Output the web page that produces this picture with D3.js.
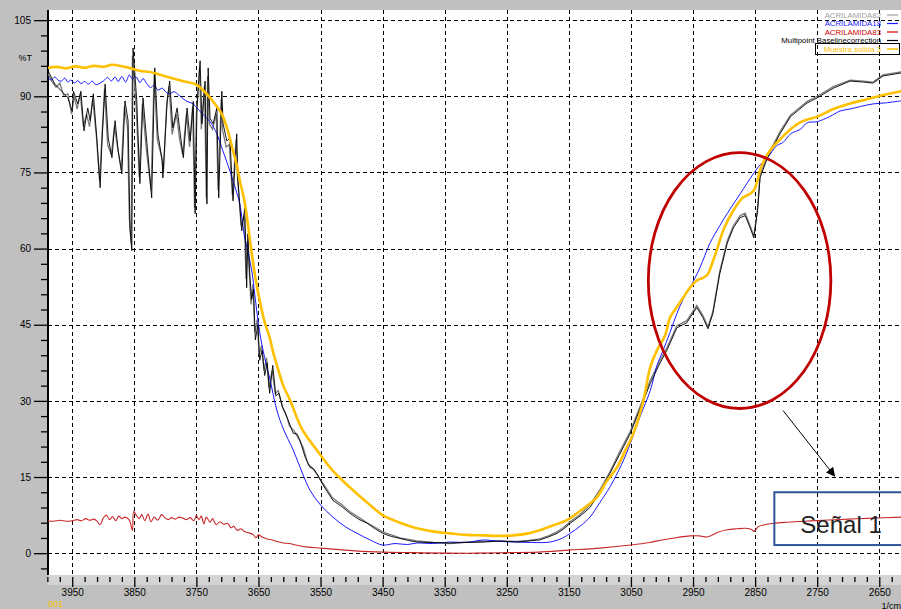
<!DOCTYPE html>
<html><head><meta charset="utf-8">
<script src="https://cdn.jsdelivr.net/npm/d3@7"></script>
<style>
body{margin:0;background:#c0c0c0;}
svg{display:block;font-family:"Liberation Sans",Arial,sans-serif;}
</style>
</head><body>
<svg id="chart" width="901" height="609"></svg>
<script>
// ---------- tick labels ----------
const yTicksMajor = [0, 15, 30, 45, 60, 75, 90, 105];
const xTicksMajor = [3950, 3850, 3750, 3650, 3550, 3450, 3350, 3250, 3150, 3050, 2950, 2850, 2750, 2650];
const seriesNames = ["ACRILAMIDA82", "ACRILAMIDA18", "ACRILAMIDA83", "Multipoint Baselinecorrection", "Muestra solida 3"];

// ---------- series: [wavenumber (1/cm), %T] ----------
const acr82 = [
[3989,94.5],[3983,93.0],[3976,91.8],[3970,92.6],[3964,90.2],[3957,90.5],[3951,86.5],[3947,90.0],[3942,87.5],[3937,90.5],
[3932,84.0],[3927,86.5],[3922,84.0],[3917,89.5],[3911,82.0],[3906,73.5],[3903,80.0],[3898,91.5],[3893,80.5],[3887,78.5],
[3882,84.0],[3877,80.0],[3871,75.5],[3866,88.0],[3861,84.0],[3858,66.0],[3855,61.0],[3853,98.0],[3847,88.0],[3842,74.0],
[3837,88.5],[3831,80.0],[3823,71.5],[3818,94.5],[3813,81.5],[3806,78.0],[3803,75.0],[3798,88.0],[3794,92.0],[3789,82.5],
[3782,86.5],[3777,81.5],[3772,78.5],[3766,86.5],[3761,80.0],[3756,88.0],[3753,68.0],[3750,86.5],[3745,95.5],[3742,83.5],
[3737,92.0],[3734,70.0],[3732,94.0],[3729,84.5],[3724,83.5],[3718,86.5],[3715,71.5],[3710,89.5],[3708,83.5],[3702,80.0],
[3697,80.5],[3692,70.5],[3686,81.5],[3684,74.5],[3678,64.5],[3673,66.5],[3670,54.0],[3668,61.5],[3665,56.0],[3662,49.0],
[3659,53.0],[3656,43.5],[3652,46.0],[3649,39.0],[3645,41.0],[3641,36.0],[3637,38.5],[3633,32.5],[3628,36.0],[3623,31.5],
[3618,32.0],[3612,29.0],[3606,27.5],[3600,25.0],[3592,24.0],[3585,22.5],[3578,20.8],[3570,17.5],[3563,16.8],[3556,15.5],
[3543,13.2],[3530,10.8],[3516,9.6],[3503,8.2],[3489,7.1],[3475,6.0],[3462,5.1],[3450,4.2],[3436,3.6],[3422,3.0],
[3408,2.7],[3395,2.4],[3368,2.1],[3341,1.9],[3315,2.2],[3288,2.3],[3260,2.4],[3234,2.3],[3215,2.5],[3197,2.8],
[3183,3.4],[3169,4.2],[3158,5.1],[3148,6.2],[3132,7.6],[3116,9.5],[3100,12.5],[3084,16.0],[3068,20.0],[3051,24.0],
[3035,29.0],[3019,34.0],[3005,37.5],[2992,40.5],[2976,44.8],[2960,45.8],[2944,48.8],[2934,46.8],[2926,44.6],[2918,47.6],
[2907,55.5],[2895,61.5],[2885,64.5],[2874,66.5],[2866,67.0],[2858,64.5],[2852,62.5],[2846,68.0],[2842,74.5],[2830,78.3],
[2810,83.0],[2793,86.3],[2782,87.4],[2766,89.0],[2750,90.0],[2724,91.9],[2697,93.2],[2675,93.0],[2660,92.8],[2644,94.2],
[2615,94.8]
];

const acr18 = [
[3989,93.7],[3984,93.2],[3978,93.8],[3972,93.1],[3967,93.0],[3962,93.6],[3957,92.8],[3952,93.2],[3946,92.6],[3941,93.1],
[3936,92.5],[3930,92.9],[3924,92.4],[3918,93.0],[3912,92.3],[3905,92.6],[3899,93.1],[3893,93.7],[3887,93.0],[3881,93.8],
[3876,92.9],[3870,93.9],[3864,92.8],[3858,94.2],[3853,93.4],[3847,93.8],[3841,92.7],[3836,93.5],[3830,92.5],[3824,91.7],
[3818,92.2],[3812,91.2],[3805,91.6],[3799,90.8],[3793,90.5],[3786,90.9],[3778,90.2],[3770,89.4],[3765,89.0],[3755,88.5],
[3749,87.7],[3740,86.5],[3728,85.0],[3717,82.6],[3708,79.5],[3696,75.3],[3685,71.0],[3680,68.8],[3672,62.0],[3667,59.5],
[3660,55.0],[3656,51.0],[3648,43.5],[3640,38.5],[3632,34.5],[3620,28.0],[3610,24.5],[3594,20.3],[3580,16.0],[3567,12.4],
[3550,9.5],[3530,7.1],[3510,5.2],[3491,3.9],[3470,2.6],[3450,1.6],[3430,1.9],[3410,1.7],[3395,2.0],[3370,1.9],
[3341,2.2],[3315,2.1],[3288,2.6],[3260,2.3],[3234,2.2],[3210,2.1],[3180,2.2],[3160,3.0],[3148,3.9],[3130,5.5],
[3116,7.1],[3100,10.0],[3084,13.0],[3065,17.5],[3051,21.6],[3035,27.0],[3019,32.0],[3008,37.0],[2998,40.0],[2987,43.5],
[2976,47.2],[2966,50.0],[2955,52.3],[2939,56.2],[2923,61.0],[2907,64.5],[2895,66.9],[2874,70.8],[2853,74.7],[2842,76.5],
[2830,77.9],[2815,80.3],[2805,80.9],[2793,82.6],[2777,83.5],[2766,84.8],[2750,85.0],[2730,86.0],[2713,87.1],[2697,87.5],
[2680,88.0],[2660,88.5],[2640,88.7],[2615,89.1]
];

const acr83 = [
[3989,6.4],[3980,6.3],[3970,6.5],[3960,6.3],[3950,6.4],[3942,6.6],[3935,6.4],[3928,6.8],[3922,6.5],[3915,6.7],
[3910,6.3],[3905,5.6],[3900,6.9],[3895,7.5],[3890,6.6],[3885,7.2],[3880,6.4],[3875,7.3],[3870,6.8],[3865,7.1],
[3858,6.5],[3853,4.5],[3851,8.2],[3847,7.5],[3842,6.8],[3838,7.6],[3833,6.4],[3828,7.7],[3823,6.2],[3818,7.1],
[3812,6.5],[3806,7.6],[3800,6.9],[3795,6.6],[3790,7.0],[3784,6.7],[3778,7.1],[3772,6.9],[3766,6.6],[3760,7.0],
[3754,6.4],[3750,7.4],[3746,6.6],[3742,7.3],[3738,5.8],[3734,7.1],[3728,6.1],[3724,6.8],[3718,5.6],[3712,6.2],
[3706,5.7],[3700,5.9],[3694,5.0],[3690,5.3],[3684,4.5],[3678,4.8],[3672,4.2],[3665,4.0],[3658,3.6],[3654,3.0],
[3650,3.6],[3644,3.2],[3636,2.8],[3628,2.6],[3620,2.3],[3610,2.0],[3600,1.9],[3590,1.6],[3570,1.2],[3550,1.0],
[3520,0.7],[3490,0.4],[3450,0.2],[3400,0.1],[3350,0.0],[3300,0.0],[3250,0.1],[3200,0.2],[3150,0.6],[3100,1.0],
[3050,1.6],[3020,2.1],[3000,2.6],[2975,3.1],[2955,3.4],[2940,3.4],[2928,3.2],[2920,3.5],[2910,4.1],[2895,4.6],
[2880,4.8],[2865,4.9],[2855,4.6],[2852,4.3],[2845,5.2],[2835,5.6],[2820,5.9],[2800,6.1],[2770,6.3],[2740,6.5],
[2700,6.7],[2660,6.9],[2615,7.1]
];

const baselineCorr = [
[3989,95.0],[3978,92.4],[3967,91.0],[3957,89.7],[3950,87.1],[3948,91.0],[3941,88.5],[3936,91.0],[3931,83.2],[3925,87.7],
[3921,85.2],[3916,90.5],[3910,81.2],[3905,72.0],[3902,81.2],[3897,92.4],[3892,81.8],[3886,77.9],[3881,85.2],[3876,79.3],
[3870,74.7],[3865,89.1],[3860,85.2],[3857,64.1],[3854,59.6],[3852,99.5],[3846,89.1],[3841,72.8],[3836,89.7],[3830,81.2],
[3822,70.0],[3817,95.6],[3812,82.6],[3805,77.3],[3804,73.9],[3797,89.1],[3793,93.0],[3788,83.8],[3781,87.7],[3776,82.6],
[3771,77.9],[3765,87.7],[3760,81.2],[3755,89.0],[3752,66.9],[3749,87.7],[3744,97.0],[3741,84.6],[3736,93.0],[3733,68.8],
[3731,95.6],[3728,85.7],[3723,84.6],[3717,87.7],[3714,70.0],[3709,91.0],[3707,84.6],[3701,81.2],[3696,81.8],[3691,69.4],
[3685,82.6],[3683,73.4],[3677,63.5],[3672,68.0],[3669,52.3],[3667,62.9],[3664,55.0],[3661,50.0],[3658,52.0],[3655,42.0],
[3651,45.0],[3648,38.0],[3644,40.0],[3640,35.0],[3636,37.5],[3632,31.5],[3627,37.0],[3622,31.0],[3617,31.5],[3611,28.7],
[3603,26.5],[3594,23.6],[3588,23.5],[3583,22.2],[3575,19.0],[3567,16.9],[3561,16.6],[3556,15.7],[3543,12.8],[3530,10.4],
[3516,9.2],[3503,7.9],[3489,6.7],[3475,5.9],[3462,4.8],[3450,3.9],[3436,3.3],[3422,2.9],[3408,2.5],[3395,2.2],
[3368,2.1],[3341,2.0],[3315,2.1],[3288,2.2],[3260,2.4],[3234,2.2],[3215,2.4],[3197,2.6],[3183,3.2],[3169,3.9],
[3158,4.8],[3148,5.9],[3132,7.3],[3116,9.0],[3100,12.0],[3084,15.7],[3068,19.5],[3051,23.6],[3035,28.5],[3019,33.4],
[3005,37.0],[2992,40.0],[2976,44.4],[2960,45.4],[2944,48.4],[2934,46.4],[2926,44.2],[2918,47.2],[2907,55.0],[2895,61.0],
[2885,64.1],[2874,66.1],[2866,66.5],[2858,64.1],[2852,62.1],[2846,67.5],[2842,74.0],[2830,77.9],[2810,82.6],[2793,86.0],
[2782,87.1],[2766,88.7],[2750,89.7],[2724,91.6],[2697,93.0],[2675,92.8],[2660,92.6],[2644,94.0],[2615,94.6]
];

const muestra3 = [
[3989,95.6],[3975,95.8],[3960,95.5],[3945,95.9],[3930,95.6],[3915,96.0],[3900,95.8],[3885,96.2],[3870,95.9],[3855,95.5],
[3840,95.0],[3825,94.8],[3810,94.3],[3790,93.6],[3765,92.8],[3750,92.3],[3736,90.8],[3720,88.5],[3709,86.5],[3700,83.5],
[3691,79.3],[3685,76.5],[3680,73.4],[3672,69.0],[3664,62.0],[3656,55.0],[3648,49.8],[3640,45.5],[3632,42.5],[3627,39.9],
[3619,36.5],[3610,33.0],[3599,30.1],[3580,24.5],[3556,20.3],[3530,16.2],[3503,13.0],[3475,10.0],[3450,7.5],[3422,6.0],
[3395,4.9],[3370,4.3],[3341,3.9],[3315,3.6],[3288,3.5],[3260,3.4],[3240,3.5],[3215,3.9],[3197,4.5],[3175,5.5],
[3153,6.5],[3130,8.5],[3105,11.0],[3090,14.0],[3072,17.0],[3060,20.0],[3046,23.6],[3030,30.0],[3019,36.6],[3008,40.0],
[2995,42.9],[2987,46.4],[2976,48.5],[2966,50.3],[2955,52.3],[2944,53.7],[2933,54.3],[2926,55.0],[2918,57.5],[2912,59.6],
[2900,64.0],[2885,67.5],[2870,70.0],[2858,70.8],[2852,71.5],[2846,73.5],[2842,75.5],[2835,77.5],[2825,79.5],[2810,81.5],
[2793,83.5],[2775,85.0],[2750,86.0],[2724,87.5],[2697,88.6],[2670,89.4],[2645,90.2],[2615,91.0]
];

// ---------- annotation (data units) ----------
const ellipseCenter = [2875, 53.7], ellipseRadii = [147, 25.2];
const arrowFrom = [2805, 28.1], arrowTo = [2722, 15.2];
const boxCorner = [2819, 12.0], boxBottom = 1.6;
const noteText = "Señal 1";

// ---------- drawing ----------
const svg = d3.select("#chart");
const W = 901, H = 609;
const L = 48, R = 901, T = 10, B = 575;
const x = d3.scaleLinear().domain([3989, 2615]).range([L, R]);
const y = d3.scaleLinear().domain([-4.3, 107]).range([B, T]);

svg.append("rect").attr("width", W).attr("height", H).attr("fill", "#c0c0c0");
svg.append("rect").attr("x", L).attr("y", B).attr("width", R - L).attr("height", 10).attr("fill", "#d4d4d4");
svg.append("rect").attr("x", L).attr("y", T).attr("width", R - L).attr("height", B - T).attr("fill", "#ffffff");

svg.append("defs").append("clipPath").attr("id", "clip")
  .append("rect").attr("x", L).attr("y", T).attr("width", R - L).attr("height", B - T);

// grid
const grid = svg.append("g").attr("stroke", "#000").attr("stroke-width", 1)
  .attr("stroke-dasharray", "4,3").attr("shape-rendering", "crispEdges");
yTicksMajor.forEach(v => {
  const yy = Math.round(y(v)) + 0.5;
  grid.append("line").attr("x1", L).attr("x2", R).attr("y1", yy).attr("y2", yy);
});
xTicksMajor.forEach(v => {
  const xx = Math.round(x(v)) + 0.5;
  grid.append("line").attr("x1", xx).attr("x2", xx).attr("y1", T).attr("y2", B);
});

// y axis
const yMinor = d3.range(-3, 106, 3).filter(v => v % 15 !== 0);
const gyMinor = svg.append("g").attr("transform", `translate(${L},0)`)
  .call(d3.axisLeft(y).tickValues(yMinor).tickSize(7).tickFormat(""));
const gy = svg.append("g").attr("transform", `translate(${L},0)`)
  .call(d3.axisLeft(y).tickValues(yTicksMajor).tickSize(14).tickPadding(3));
[gy, gyMinor].forEach(g => { g.select(".domain").remove(); g.selectAll("line").attr("stroke", "#000").attr("stroke-width", 1.3); });
gy.selectAll("text").attr("font-size", 10).attr("fill", "#000").attr("font-family", "Liberation Sans, Arial, sans-serif");
svg.append("text").attr("x", 32).attr("y", 61).attr("text-anchor", "end").attr("font-size", 9).text("%T");

// x axis
const xMinor = d3.range(3990, 2610, -20).filter(v => (v - 3950) % 100 !== 0);
const gxMinor = svg.append("g").attr("transform", `translate(0,${B + 2})`)
  .call(d3.axisBottom(x).tickValues(xMinor).tickSize(5).tickFormat(""));
const gx = svg.append("g").attr("transform", `translate(0,${B + 2})`)
  .call(d3.axisBottom(x).tickValues(xTicksMajor).tickSize(10).tickPadding(2).tickFormat(d3.format("d")));
[gx, gxMinor].forEach(g => { g.select(".domain").remove(); g.selectAll("line").attr("stroke", "#000").attr("stroke-width", 1.3); });
gx.selectAll("text").attr("font-size", 10).attr("fill", "#000").attr("font-family", "Liberation Sans, Arial, sans-serif");
svg.append("text").attr("x", 901).attr("y", 608.5).attr("text-anchor", "end").attr("font-size", 9).text("1/cm");
svg.append("text").attr("x", 48).attr("y", 607).attr("font-size", 9).attr("fill", "#ffc000").text("001");

// left axis line
svg.append("line").attr("x1", L).attr("x2", L).attr("y1", T).attr("y2", B)
  .attr("stroke", "#000").attr("stroke-width", 2);

// series
const line = d3.line().x(d => x(d[0])).y(d => y(d[1]));
const smooth = d3.line().x(d => x(d[0])).y(d => y(d[1])).curve(d3.curveCatmullRom.alpha(0.5));
const plot = svg.append("g").attr("clip-path", "url(#clip)").attr("fill", "none");
plot.append("path").datum(acr83).attr("d", smooth).attr("stroke", "#c8282a").attr("stroke-width", 1.1);
plot.append("path").datum(acr82).attr("d", line).attr("stroke", "#7a7a7a").attr("stroke-width", 1.3);
plot.append("path").datum(acr18).attr("d", smooth).attr("stroke", "#1a1aff").attr("stroke-width", 1);
plot.append("path").datum(baselineCorr).attr("d", line).attr("stroke", "#000").attr("stroke-width", 0.9);
plot.append("path").datum(muestra3).attr("d", smooth).attr("stroke", "#ffc000").attr("stroke-width", 2.6);

// legend
const legendColors = ["#a0a0a0", "#1a1aff", "#d00000", "#000000", "#ffc000"];
const leg = svg.append("g").attr("font-size", 7.8);
seriesNames.forEach((n, i) => {
  const cy = 15 + i * 8.5;
  if (i === 4) {
    leg.append("rect").attr("x", 815.5).attr("y", cy - 5.5).attr("width", 84).attr("height", 11)
      .attr("fill", "none").attr("stroke", "#000").attr("stroke-width", 1);
  }
  leg.append("text").attr("x", 881).attr("y", cy + 2.7).attr("text-anchor", "end")
    .attr("fill", legendColors[i]).text(n);
  leg.append("line").attr("x1", 887).attr("x2", 898).attr("y1", cy).attr("y2", cy)
    .attr("stroke", legendColors[i]).attr("stroke-width", i === 4 ? 1.5 : 1.2);
});

// annotations
const ann = svg.append("g");
ann.append("ellipse")
  .attr("cx", x(ellipseCenter[0])).attr("cy", y(ellipseCenter[1]))
  .attr("rx", Math.abs(x(ellipseCenter[0] + ellipseRadii[0]) - x(ellipseCenter[0])))
  .attr("ry", Math.abs(y(ellipseCenter[1] + ellipseRadii[1]) - y(ellipseCenter[1])))
  .attr("fill", "none").attr("stroke", "#c00000").attr("stroke-width", 2.8);

svg.select("defs").append("marker").attr("id", "arrow")
  .attr("viewBox", "0 0 10 10").attr("refX", 9).attr("refY", 5)
  .attr("markerWidth", 12).attr("markerHeight", 9).attr("markerUnits", "userSpaceOnUse")
  .attr("orient", "auto")
  .append("path").attr("d", "M0,0 L10,5 L0,10 z").attr("fill", "#000");
ann.append("line")
  .attr("x1", x(arrowFrom[0])).attr("y1", y(arrowFrom[1]))
  .attr("x2", x(arrowTo[0])).attr("y2", y(arrowTo[1]))
  .attr("stroke", "#000").attr("stroke-width", 1).attr("marker-end", "url(#arrow)");

ann.append("rect")
  .attr("x", x(boxCorner[0])).attr("y", y(boxCorner[1]))
  .attr("width", 200).attr("height", y(boxBottom) - y(boxCorner[1]))
  .attr("fill", "none").attr("stroke", "#2f5597").attr("stroke-width", 2);
ann.append("text").attr("x", x(boxCorner[0]) + 26).attr("y", y(boxBottom) - 12)
  .attr("font-size", 24).attr("fill", "#222").text(noteText);
</script>
</body></html>
